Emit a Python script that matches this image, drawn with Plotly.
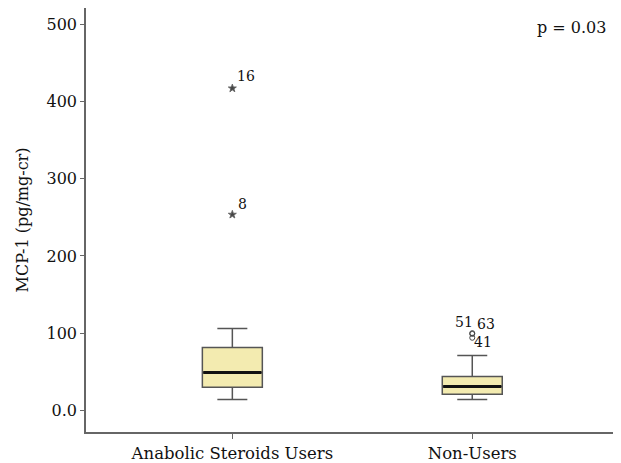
import plotly.graph_objects as go

categories = ["Anabolic Steroids Users", "Non-Users"]
q1 = [30, 21]
median = [49, 31]
q3 = [81.5, 44]
lower_whisker = [14, 14]
upper_whisker = [106, 71]

outlier_group = [0, 0, 1, 1, 1]
outlier_values = [417, 253.5, 100, 99, 94]
outlier_labels = ["16", "8", "51", "63", "41"]
outlier_extreme = [True, True, False, False, False]

y_tickvals = [0, 100, 200, 300, 400, 500]
y_ticktext = ["0.0", "100", "200", "300", "400", "500"]

FONT = "DejaVu Serif"
BOX_W = 0.25
fig = go.Figure()

for i, c in enumerate(categories):
    fig.add_trace(go.Box(
        x=[i], q1=[q1[i]], median=[median[i]], q3=[q3[i]],
        lowerfence=[lower_whisker[i]], upperfence=[upper_whisker[i]],
        width=BOX_W, whiskerwidth=0.5,
        fillcolor="#f3ebb0", line=dict(color="#555555", width=1.5),
        boxpoints=False, showlegend=False, hoverinfo="skip",
    ))
    fig.add_trace(go.Scatter(
        x=[i - BOX_W / 2 * 0.97, i + BOX_W / 2 * 0.97], y=[median[i], median[i]],
        mode="lines", line=dict(color="#111111", width=3),
        showlegend=False, hoverinfo="skip",
    ))

# outliers
for g, v, lab, ext in zip(outlier_group, outlier_values, outlier_labels, outlier_extreme):
    fig.add_trace(go.Scatter(
        x=[g], y=[v], mode="markers",
        marker=dict(symbol="star" if ext else "circle-open", size=6 if ext else 5,
                    color="#444444", line=dict(width=1, color="#666666")),
        showlegend=False, hoverinfo="skip",
    ))

# outlier labels (pixel offsets: right, down)
label_offsets = {"16": (14, -12), "8": (10, -11), "51": (-8, -11), "63": (14, -10), "41": (11, 4)}
for g, v, lab in zip(outlier_group, outlier_values, outlier_labels):
    dx, dy = label_offsets[lab]
    fig.add_annotation(x=g, y=v, text=lab, showarrow=False, xshift=dx, yshift=-dy,
                       font=dict(family=FONT, size=14, color="#111111"))

fig.add_annotation(xref="paper", yref="paper", x=0.975, y=0.955, text="p = 0.03",
                   showarrow=False, xanchor="right", yanchor="middle",
                   font=dict(family=FONT, size=16, color="#111111"))

# page body has an 8px margin, so the figure is sized and offset accordingly
fig.update_layout(
    width=613, height=455,
    margin=dict(l=78, r=0, t=0, b=25),
    paper_bgcolor="white", plot_bgcolor="white",
    font=dict(family=FONT, size=16, color="#111111"),
)
fig.update_xaxes(
    range=[-0.61, 1.62], tickvals=[0, 1], ticktext=categories,
    showgrid=False, zeroline=False, showline=True, linecolor="#666666", linewidth=1.5,
    ticks="outside", ticklen=5, tickcolor="#666666",
    tickfont=dict(family=FONT, size=16.5, color="#111111"),
)
fig.update_yaxes(
    range=[-28, 521], tickvals=y_tickvals, ticktext=y_ticktext,
    showgrid=False, zeroline=False, showline=True, linecolor="#666666", linewidth=1.5,
    ticks="outside", ticklen=4, tickcolor="#666666",
    tickfont=dict(family=FONT, size=16, color="#111111"),
    title=dict(text="MCP-1 (pg/mg-cr)", font=dict(family=FONT, size=16, color="#111111"), standoff=14),
)

fig.write_html("out.html")
